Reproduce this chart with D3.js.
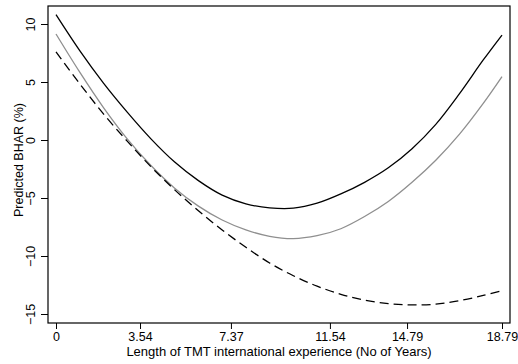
<!DOCTYPE html>
<html>
<head>
<meta charset="utf-8">
<script src="https://cdn.jsdelivr.net/npm/d3@7"></script>
<style>
  body { margin: 0; background: #fff; }
  text { font-family: "Liberation Sans", Arial, Helvetica, sans-serif; fill: #000; }
</style>
</head>
<body>
<svg id="chart" width="518" height="364"></svg>
<script>
// years of TMT international experience (x)
const years = [0, 1, 2, 3, 4, 5, 6, 7, 8, 9, 10, 11, 12, 13, 14, 15, 16, 17, 18, 18.79];

// predicted BHAR (%)
const solidBlack = [10.8, 7.7, 4.9, 2.4, 0.1, -1.9, -3.5, -4.75, -5.5, -5.85, -5.88, -5.45, -4.65, -3.65, -2.4, -0.75, 1.35, 4.0, 6.9, 9.05];
const solidGray = [9.14, 5.85, 2.8, 0.1, -2.2, -4.15, -5.7, -6.9, -7.75, -8.3, -8.5, -8.25, -7.65, -6.6, -5.3, -3.65, -1.75, 0.5, 3.15, 5.46];
const dashedBlack = [7.6, 4.85, 2.25, -0.1, -2.3, -4.3, -6.1, -7.75, -9.25, -10.6, -11.7, -12.6, -13.3, -13.8, -14.1, -14.22, -14.15, -13.85, -13.4, -12.99];

const xTicks = [0, 3.54, 7.37, 11.54, 14.79, 18.79];
const yTicks = [-15, -10, -5, 0, 5, 10];

const svg = d3.select('#chart');
const frame = { left: 48, right: 510, top: 6, bottom: 323 };

const xScale = d3.scaleLinear()
    .domain([0, 18.79])
    .range([frame.left + 8, frame.right - 8]);

const yScale = d3.scaleLinear()
    .domain([-15, 10])
    .range([frame.bottom - 9, frame.top + 18]);

// plot region border
svg.append('rect')
    .attr('x', frame.left)
    .attr('y', frame.top)
    .attr('width', frame.right - frame.left)
    .attr('height', frame.bottom - frame.top)
    .attr('fill', 'none')
    .attr('stroke', '#000')
    .attr('stroke-width', 1.2);

const xAxis = d3.axisBottom(xScale)
    .tickValues(xTicks)
    .tickFormat(d => d === 0 ? '0' : d3.format('.2f')(d))
    .tickSize(6)
    .tickPadding(3)
    .tickSizeOuter(0);

const gx = svg.append('g')
    .attr('class', 'x-axis')
    .attr('transform', `translate(0, ${frame.bottom})`)
    .call(xAxis);
gx.select('.domain').remove();
gx.selectAll('text').attr('font-size', 12.5);

const yAxis = d3.axisLeft(yScale)
    .tickValues(yTicks)
    .tickSize(7)
    .tickSizeOuter(0);

const gy = svg.append('g')
    .attr('class', 'y-axis')
    .attr('transform', `translate(${frame.left}, 0)`)
    .call(yAxis);
gy.select('.domain').remove();
gy.selectAll('text')
    .attr('x', null)
    .attr('dy', null)
    .attr('font-size', 12.5)
    .attr('text-anchor', 'middle')
    .attr('transform', 'translate(-13, 0) rotate(-90)');
svg.selectAll('.tick line').attr('stroke', '#000');

// axis titles
svg.append('text')
    .attr('x', (frame.left + frame.right) / 2)
    .attr('y', 356)
    .attr('text-anchor', 'middle')
    .attr('font-size', 13)
    .text('Length of TMT international experience (No of Years)');

svg.append('text')
    .attr('transform', 'translate(23, 160) rotate(-90)')
    .attr('text-anchor', 'middle')
    .attr('font-size', 12.5)
    .text('Predicted BHAR (%)');

const line = d3.line()
    .x(d => xScale(d[0]))
    .y(d => yScale(d[1]))
    .curve(d3.curveCatmullRom.alpha(0.5));

const series = [
    { values: solidGray, color: '#8f8f8f', width: 1.3, dash: null },
    { values: dashedBlack, color: '#000', width: 1.3, dash: '9,5' },
    { values: solidBlack, color: '#000', width: 1.3, dash: null }
];

svg.selectAll('path.curve')
    .data(series)
    .enter().append('path')
    .attr('class', 'curve')
    .attr('d', s => line(years.map((x, i) => [x, s.values[i]])))
    .attr('fill', 'none')
    .attr('stroke', s => s.color)
    .attr('stroke-width', s => s.width)
    .attr('stroke-dasharray', s => s.dash);
</script>
</body>
</html>
